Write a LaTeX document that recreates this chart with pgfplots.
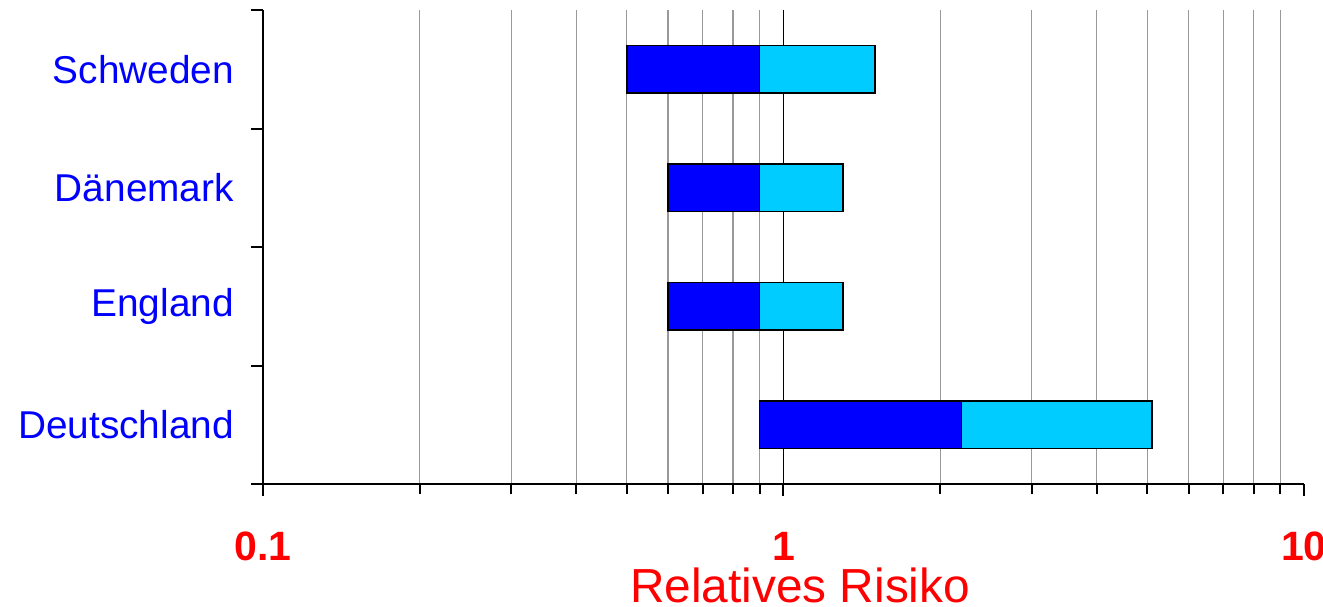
\documentclass[border=0pt]{standalone}
\usepackage{pgfplots}
\pgfplotsset{compat=1.18}
\usepackage{fontspec}
\setmainfont{Liberation Sans}
\definecolor{darkb}{HTML}{0000FF}
\definecolor{lightb}{HTML}{00CCFF}
\begin{document}
\begin{tikzpicture}
\begin{axis}[
  scale only axis, width=520.5pt, height=237pt,
  xmode=log, xmin=0.1, xmax=10, ymin=0, ymax=4,
  axis x line*=bottom, axis y line*=left,
  axis line style={-, line width=1pt},
  every tick/.style={black, line width=1pt},
  tick align=outside,
  major tick length=6pt, minor tick length=5pt,
  xtick={0.1,1,10}, xticklabels={0.1,1,10},
  minor xtick={0.2,0.3,0.4,0.5,0.6,0.7,0.8,0.9,2,3,4,5,6,7,8,9},
  xminorgrids, minor x grid style={gray!80, line width=0.6pt},
  /pgf/number format/assume math mode=true,
  xticklabel style={font=\bfseries\fontsize{20.5}{24}\selectfont, text=red, anchor=base, yshift=-32pt},
  ytick={0,1,2,3,4}, yticklabels={},
  extra y ticks={0.5,1.5,2.5,3.5},
  extra y tick labels={Deutschland,England,Dänemark,Schweden},
  extra y tick style={major tick length=0pt},
  yticklabel style={font=\fontsize{19.4}{22}\selectfont, text=darkb, anchor=east, xshift=-11pt},
  xlabel={Relatives Risiko},
  xlabel style={font=\fontsize{23.9}{28}\selectfont, text=red, at={(axis description cs:0.516,0)}, anchor=base, yshift=-59pt},
  clip=false,
]
\coordinate (O) at (rel axis cs:0,0);
\addplot[black, line width=0.8pt] coordinates {(1,0) (1,4)};
% Schweden
\addplot[fill=darkb, draw=black, line width=0.75pt] coordinates {(0.5,3.3) (0.9,3.3) (0.9,3.7) (0.5,3.7)} -- cycle;
\addplot[fill=lightb, draw=black, line width=0.75pt] coordinates {(0.9,3.3) (1.5,3.3) (1.5,3.7) (0.9,3.7)} -- cycle;
% Daenemark
\addplot[fill=darkb, draw=black, line width=0.75pt] coordinates {(0.6,2.3) (0.9,2.3) (0.9,2.7) (0.6,2.7)} -- cycle;
\addplot[fill=lightb, draw=black, line width=0.75pt] coordinates {(0.9,2.3) (1.3,2.3) (1.3,2.7) (0.9,2.7)} -- cycle;
% England
\addplot[fill=darkb, draw=black, line width=0.75pt] coordinates {(0.6,1.3) (0.9,1.3) (0.9,1.7) (0.6,1.7)} -- cycle;
\addplot[fill=lightb, draw=black, line width=0.75pt] coordinates {(0.9,1.3) (1.3,1.3) (1.3,1.7) (0.9,1.7)} -- cycle;
% Deutschland
\addplot[fill=darkb, draw=black, line width=0.75pt] coordinates {(0.9,0.3) (2.2,0.3) (2.2,0.7) (0.9,0.7)} -- cycle;
\addplot[fill=lightb, draw=black, line width=0.75pt] coordinates {(2.2,0.3) (5.1,0.3) (5.1,0.7) (2.2,0.7)} -- cycle;
\end{axis}
\pgfresetboundingbox
\path[use as bounding box] (O) ++(-131.5pt,-61pt) rectangle ++(661.5pt,303pt);
\end{tikzpicture}
\end{document}
